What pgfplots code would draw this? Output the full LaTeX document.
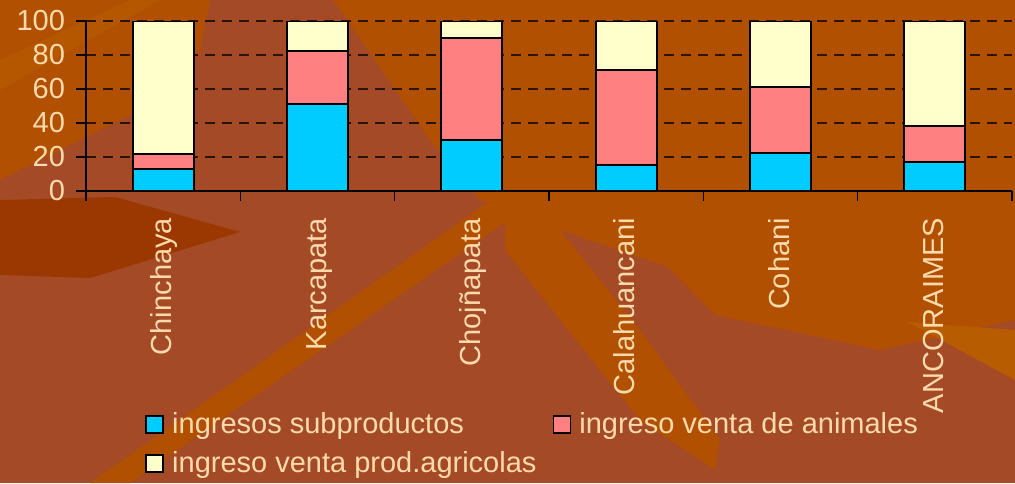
\documentclass[border=0pt]{standalone}
\usepackage{pgfplots}
\pgfplotsset{compat=1.18}
\usepackage{fontspec}
\setmainfont{Liberation Sans}
\definecolor{bgrust}{RGB}{164,74,38}
\definecolor{bgorange}{RGB}{176,80,0}
\definecolor{bglight}{RGB}{184,92,0}
\definecolor{bgdark}{RGB}{155,55,0}
\definecolor{txt}{RGB}{255,218,170}
\definecolor{cblue}{RGB}{0,204,255}
\definecolor{cpink}{RGB}{255,128,128}
\definecolor{ccream}{RGB}{255,255,204}
\newcommand\lblfont{\fontsize{14.5}{17}\selectfont}
\begin{document}
\begin{tikzpicture}[x=0.5pt,y=-0.5pt]
% background (image pixel coordinates, y downwards)
\fill[bgrust] (0,0) rectangle (1015,483);
\fill[bgorange] (333,0) -- (1015,0) -- (1015,320) -- (880,350) -- (715,315) -- (668,267) -- (560,230) -- (480,200) -- (430,140) -- cycle;
\fill[bgorange] (0,0) -- (210,0) -- (200,50) -- (140,110) -- (60,150) -- (0,180) -- cycle;
\fill[bglight,opacity=0.6] (0,60) -- (130,0) -- (160,0) -- (0,90) -- cycle;
\fill[bgorange] (90,483) -- (130,483) -- (530,205) -- (505,190) -- cycle;
\fill[bgdark] (0,200) -- (115,197) -- (240,232) -- (90,278) -- (0,275) -- cycle;
\fill[bgorange] (505,200) -- (560,230) -- (640,330) -- (720,440) -- (715,470) -- (640,420) -- (560,320) -- (505,250) -- cycle;
\fill[bglight] (908,322) -- (1015,330) -- (1015,380) -- cycle;
\begin{axis}[
  at={(43pt,-95.5pt)}, anchor=south west,
  scale only axis, width=463pt, height=85pt,
  ybar stacked, bar width=30.5pt,
  xmin=-0.5, xmax=5.5, ymin=0, ymax=100,
  axis lines=left, axis line style={-, black, line width=0.6pt},
  xtick={-0.5,0.5,...,5.5}, x tick label as interval,
  xticklabels={Chinchaya,Karcapata,Chojñapata,Calahuancani,Cohani,ANCORAIMES},
  xticklabel style={rotate=90, anchor=east, font=\lblfont, text=txt,
     text height=0.75em, text depth=0.2em, yshift=-1.5pt, xshift=-5pt},
  ytick={0,20,...,100},
  yticklabel style={font=\lblfont, text=txt, xshift=-2pt},
  /pgf/number format/assume math mode=true,
  tick align=outside, major tick length=5pt,
  tick style={black, line width=0.6pt},
  ymajorgrids, grid style={black, opacity=0.75, dash pattern=on 5pt off 3.5pt, line width=0.6pt},
  legend columns=2,
  legend cell align=left,
  legend style={draw=none, fill=none, at={(0.0637,-1.276)}, anchor=north west,
     inner sep=0pt, font=\lblfont, text=txt, row sep=3.5pt,
     /tikz/every odd column/.append style={column sep=2pt},
     /tikz/every even column/.append style={column sep=6pt}},
]
\addplot[fill=cblue, draw=black, line width=1pt,
  legend image code/.code={\draw[fill=cblue, draw=black, line width=0.9pt] (0pt,-4.2pt) rectangle (8.5pt,4.2pt);}]
  coordinates {(0,13) (1,51) (2,30) (3,15.5) (4,22.5) (5,17)};
\addplot[fill=cpink, draw=black, line width=1pt,
  legend image code/.code={\draw[fill=cpink, draw=black, line width=0.9pt] (0pt,-4.2pt) rectangle (8.5pt,4.2pt);}]
  coordinates {(0,9) (1,31.5) (2,60) (3,55.5) (4,38.5) (5,21)};
\addplot[fill=ccream, draw=black, line width=1pt,
  legend image code/.code={\draw[fill=ccream, draw=black, line width=0.9pt] (0pt,-4.2pt) rectangle (8.5pt,4.2pt);}]
  coordinates {(0,78) (1,17.5) (2,10) (3,29) (4,39) (5,62)};
\legend{ingresos subproductos, ingreso venta de animales, ingreso venta prod.agricolas}
\end{axis}
\pgfresetboundingbox
\useasboundingbox (0,0) rectangle (1015,483);
\end{tikzpicture}
\end{document}
